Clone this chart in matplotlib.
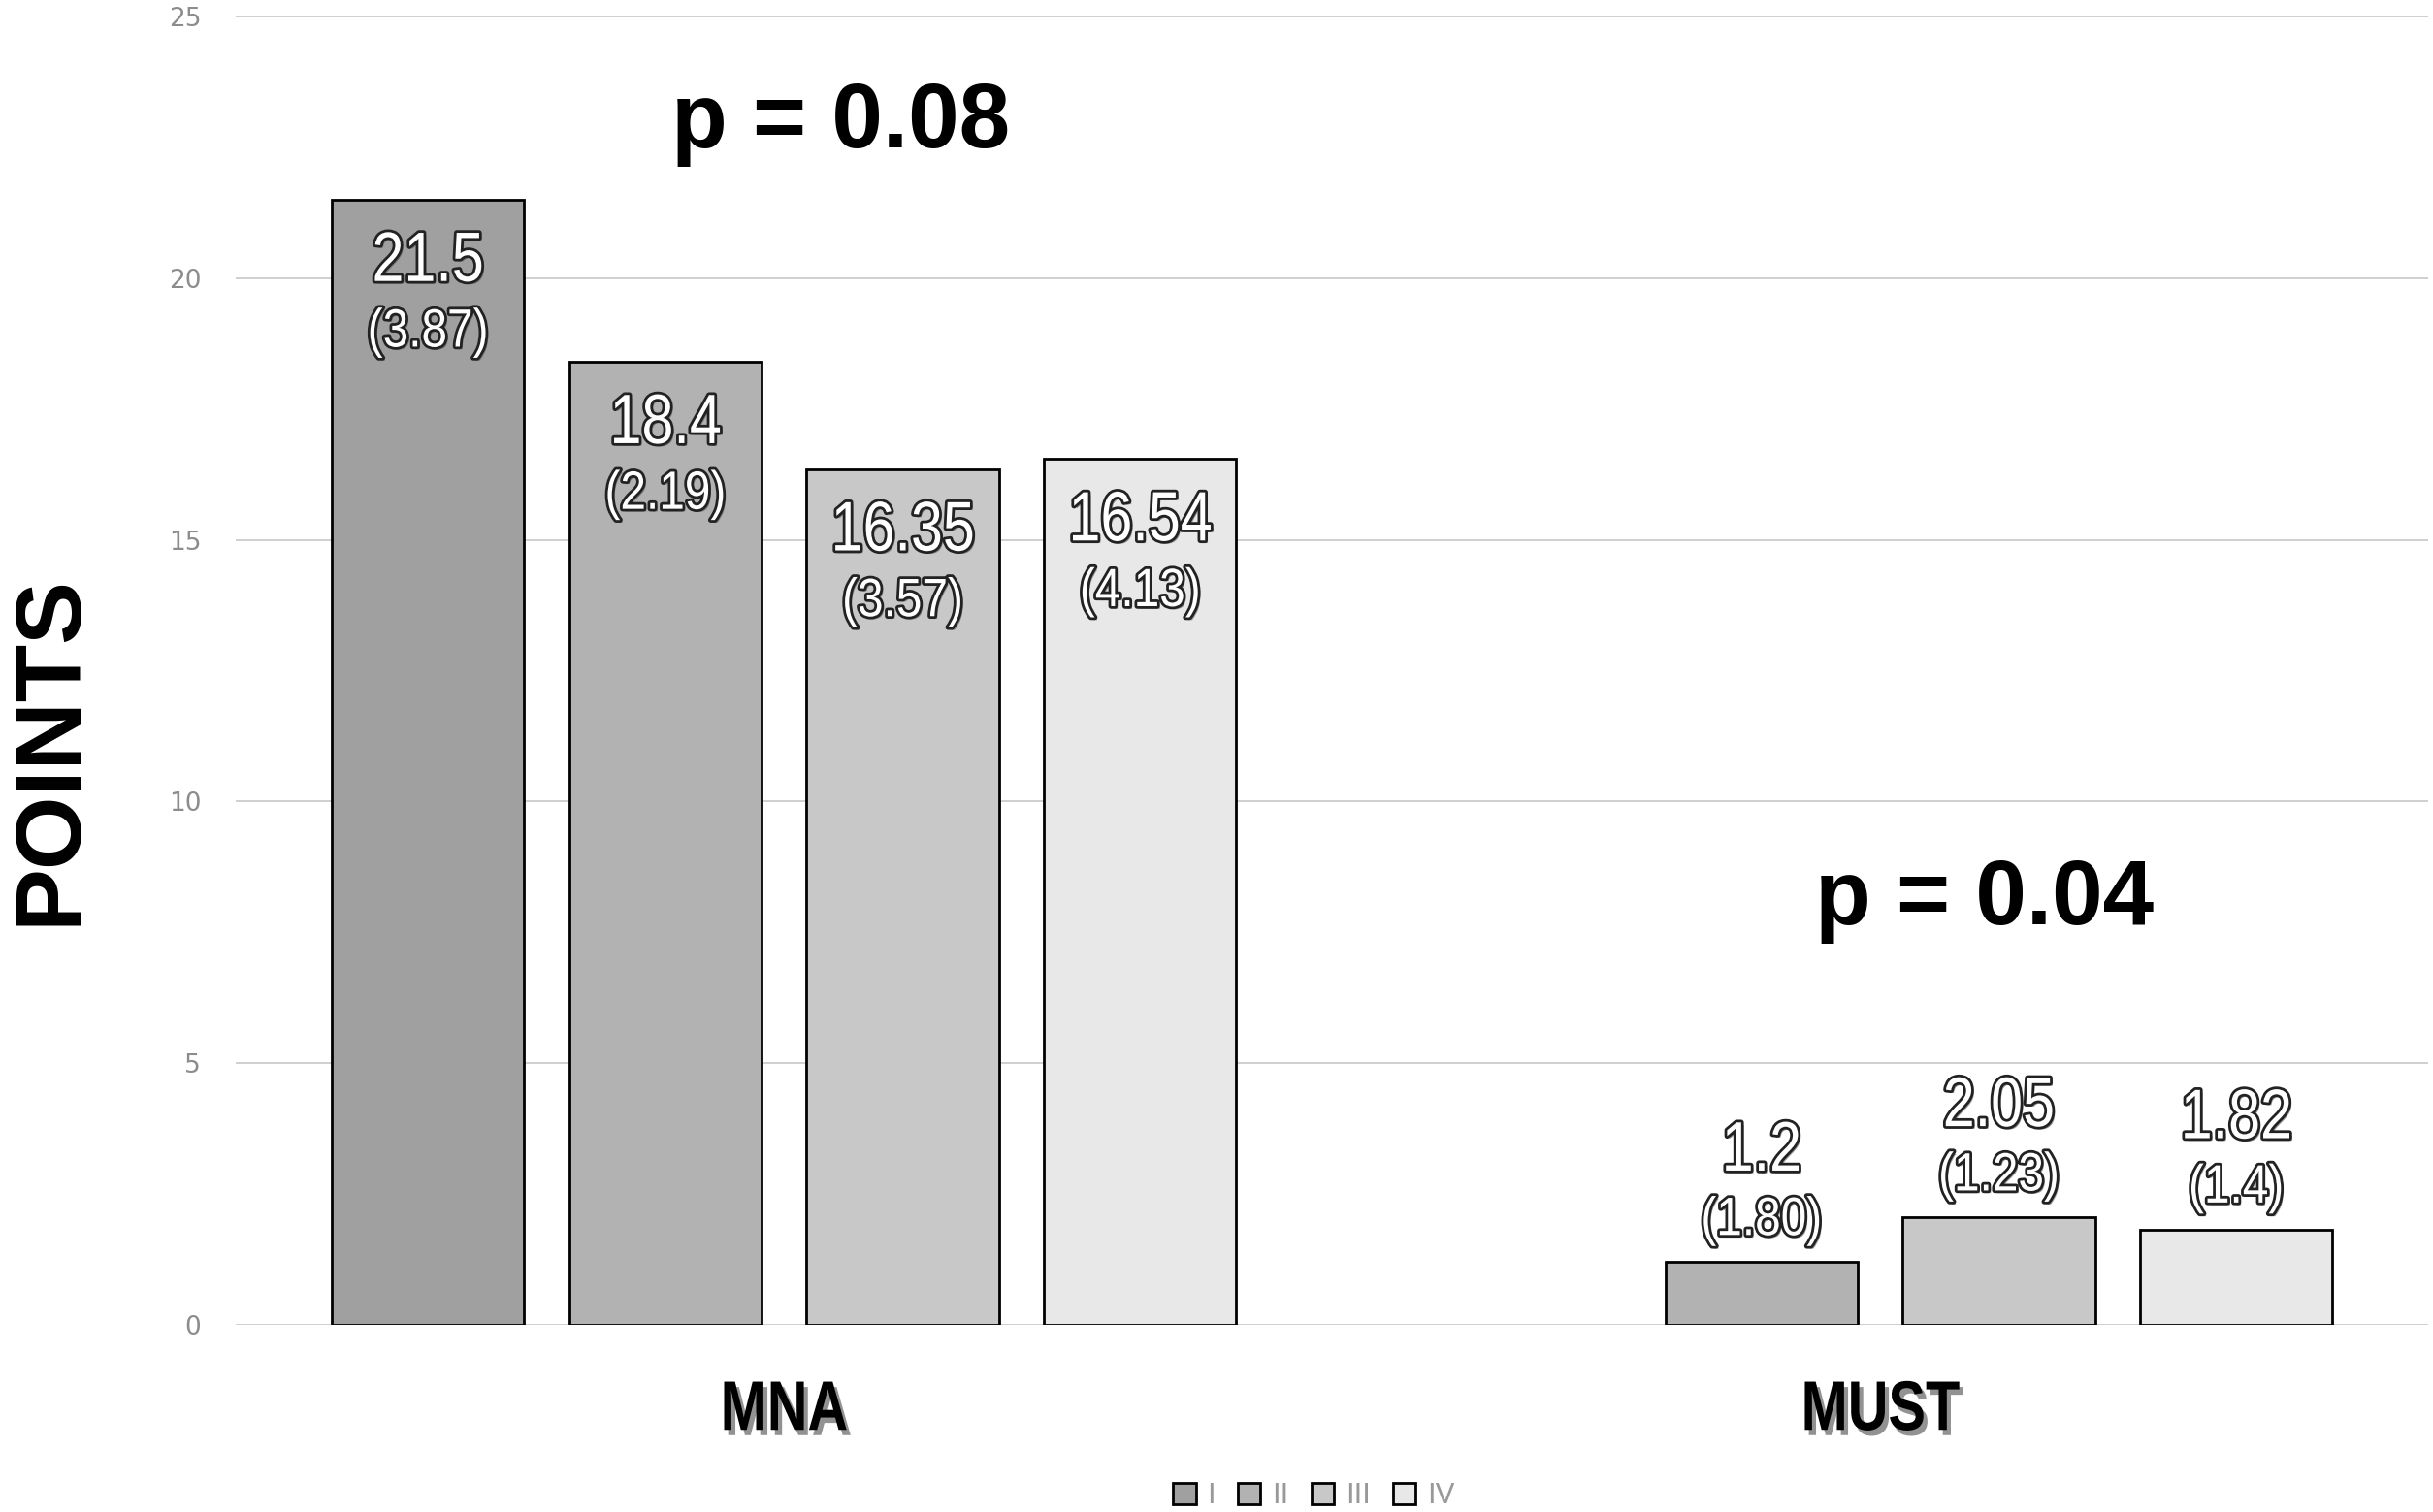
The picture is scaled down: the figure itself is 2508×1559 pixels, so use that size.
import numpy as np
import matplotlib
matplotlib.use("Agg")
import matplotlib.pyplot as plt
import matplotlib.patheffects as pe
from matplotlib.transforms import Affine2D

# data
categories = ['MNA', 'MUST']
groups = ['I', 'II', 'III', 'IV']
mna_means = [21.5, 18.4, 16.35, 16.54]
must_means = [np.nan, 1.2, 2.05, 1.82]
mna_sd = ['3.87', '2.19', '3.57', '4.13']
must_sd = [None, '1.80', '1.23', '1.4']
p_values = ['p = 0.08', 'p = 0.04']
p_pos_x = [0.052, 1.095]
p_pos_y = [22.5, 7.65]

colors = ['#a0a0a0', '#b2b2b2', '#c8c8c8', '#e8e8e8']


def squeezed(effect_cls, sx):
    """Wrap a path effect so the text is drawn horizontally condensed."""
    class Squeezed(effect_cls):
        def draw_path(self, renderer, gc, tpath, affine, rgbFace=None):
            bb = tpath.get_extents(affine)
            cx = (bb.x0 + bb.x1) / 2
            aff = affine + Affine2D().translate(-cx, 0).scale(sx, 1).translate(cx, 0)
            super().draw_path(renderer, gc, tpath, aff, rgbFace)
    return Squeezed


def label_effects(sx):
    return [squeezed(pe.SimplePatchShadow, sx)(offset=(2, -2), shadow_rgbFace='#555555', alpha=0.6),
            squeezed(pe.Stroke, sx)(linewidth=4, foreground='#222222'),
            squeezed(pe.Normal, sx)()]


fig = plt.figure(figsize=(25.08, 15.59), dpi=100)
ax = fig.add_axes([0.097, 0.124, 0.901, 0.865])

x = np.arange(len(categories))
width = 0.1755
step = 0.2166

for i, g in enumerate(groups):
    vals = [mna_means[i], must_means[i]]
    sds = [mna_sd[i], must_sd[i]]
    pos = x + (i - 1.5) * step
    ax.bar(pos, vals, width, color=colors[i], edgecolor='black', linewidth=2,
           label=g, zorder=3)
    for j, (xp, v, sd) in enumerate(zip(pos, vals, sds)):
        if np.isnan(v):
            continue
        if j == 0:
            off_v, off_s = -47, -99   # labels inside the bar top
        else:
            off_v, off_s = 81, 30     # labels above short bars
        ax.annotate(str(v), (xp, v), xytext=(0, off_v), textcoords='offset points',
                    ha='center', va='center', fontsize=52, color='white',
                    family='Liberation Sans', path_effects=label_effects(0.82), zorder=5)
        ax.annotate('(' + sd + ')', (xp, v), xytext=(0, off_s), textcoords='offset points',
                    ha='center', va='center', fontsize=40, color='white',
                    family='Liberation Sans', path_effects=label_effects(0.86), zorder=5)

for txt, px, py in zip(p_values, p_pos_x, p_pos_y):
    ax.text(px, py, txt, ha='center', va='baseline', fontsize=68,
            fontweight='bold', family='Liberation Sans', color='black')

ax.set_xlim(-0.5, 1.5)
ax.set_ylim(0, 25)
ax.set_yticks(range(0, 26, 5))
ax.set_xticks(x)
ax.set_xticklabels(categories, fontsize=52, fontweight='bold', family='Liberation Sans',
                   path_effects=[squeezed(pe.SimplePatchShadow, 0.8)(offset=(3, -4), shadow_rgbFace='#777777', alpha=0.8),
                                 squeezed(pe.Normal, 0.8)()])
ax.tick_params(axis='x', length=0, pad=40)
ax.tick_params(axis='y', length=0, pad=26, labelsize=19, labelcolor='#8c8c8c')
ax.grid(axis='y', color='#cccccc', linewidth=1.3, zorder=0)
ax.set_axisbelow(True)
for s in ax.spines.values():
    s.set_visible(False)

fig.text(0.021, 0.504, 'POINTS', rotation=90, ha='center', va='center',
         fontsize=70, fontweight='bold', family='Liberation Sans')

fig.legend(loc='center', bbox_to_anchor=(0.54, 0.011), ncol=4, frameon=False,
           fontsize=21, labelcolor='#999999', handlelength=0.8, handleheight=0.8,
           handletextpad=0.4, columnspacing=0.8)

fig.savefig('out.png', dpi=100)
